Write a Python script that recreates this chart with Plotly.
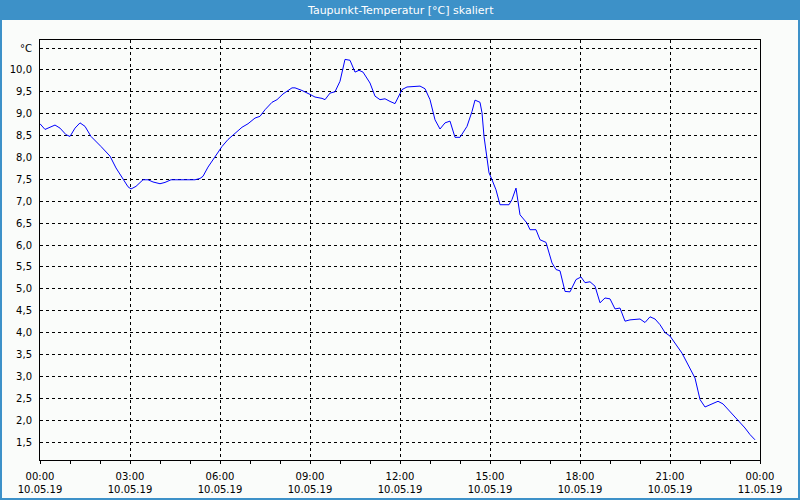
import plotly.graph_objects as go

DAY = "2019-05-10"
times = ["00:00","00:10","00:30","00:40","00:52","01:00","01:10","01:20","01:30","01:42",
         "02:02","02:20","02:32","02:46","02:56","03:02","03:12","03:26","03:36","03:46",
         "04:00","04:10","04:22","04:42","05:10","05:20","05:26","05:36","05:50","06:04",
         "06:16","06:30","06:44","06:56","07:10","07:20","07:30","07:44","07:54","08:06",
         "08:24","08:30","08:44","09:00","09:10","09:24","09:30","09:40","09:50","10:00",
         "10:10","10:20","10:30","10:38","10:46","11:00","11:10","11:20","11:30","11:40",
         "11:50","12:04","12:14","12:40","12:50","13:00","13:10","13:20","13:30","13:40",
         "13:50","14:00","14:14","14:24","14:30","14:40","14:44","14:48","14:54","14:58",
         "15:04","15:12","15:20","15:38","15:44","15:52","16:00","16:14","16:20","16:32",
         "16:40","16:52","17:04","17:12","17:20","17:30","17:40","17:52","18:02","18:10",
         "18:20","18:30","18:40","18:50","19:00","19:10","19:20","19:30","19:40","20:00",
         "20:10","20:20","20:30","20:40","20:50","21:00","21:24","21:40","21:50","22:00",
         "22:10","22:24","22:36","22:46","23:00","23:16","23:30","23:40","23:50"]
values = [8.77,8.64,8.74,8.67,8.52,8.48,8.67,8.79,8.71,8.48,
          8.25,8.03,7.76,7.49,7.33,7.28,7.34,7.49,7.49,7.44,
          7.40,7.43,7.49,7.49,7.49,7.52,7.57,7.78,8.03,8.25,
          8.41,8.56,8.69,8.77,8.90,8.94,9.09,9.26,9.32,9.45,
          9.59,9.59,9.53,9.44,9.38,9.35,9.32,9.47,9.50,9.74,
          10.24,10.22,9.95,9.99,9.95,9.70,9.40,9.32,9.34,9.28,
          9.23,9.55,9.61,9.63,9.57,9.32,8.86,8.65,8.79,8.83,
          8.46,8.46,8.71,9.05,9.31,9.26,9.02,8.48,8.03,7.65,
          7.49,7.26,6.92,6.92,7.04,7.30,6.69,6.50,6.35,6.35,
          6.12,6.06,5.59,5.44,5.41,4.94,4.93,5.21,5.27,5.14,
          5.16,5.06,4.68,4.79,4.77,4.54,4.56,4.26,4.29,4.31,
          4.23,4.36,4.31,4.18,4.00,3.92,3.53,3.19,2.96,2.47,
          2.30,2.37,2.43,2.37,2.20,2.01,1.82,1.67,1.55]

x_tick_times = ["2019-05-10 00:00","2019-05-10 03:00","2019-05-10 06:00","2019-05-10 09:00",
                "2019-05-10 12:00","2019-05-10 15:00","2019-05-10 18:00","2019-05-10 21:00",
                "2019-05-11 00:00"]
x_tick_text = ["00:00<br>10.05.19","03:00<br>10.05.19","06:00<br>10.05.19","09:00<br>10.05.19",
               "12:00<br>10.05.19","15:00<br>10.05.19","18:00<br>10.05.19","21:00<br>10.05.19",
               "00:00<br>11.05.19"]
y_tick_vals = [1.5,2.0,2.5,3.0,3.5,4.0,4.5,5.0,5.5,6.0,6.5,7.0,7.5,8.0,8.5,9.0,9.5,10.0,10.5]
y_tick_text = ["1,5","2,0","2,5","3,0","3,5","4,0","4,5","5,0","5,5","6,0","6,5","7,0",
               "7,5","8,0","8,5","9,0","9,5","10,0","°C"]
title_text = "Taupunkt-Temperatur [°C] skaliert"

W, H = 800, 500
L, R, T, B = 40, 40, 40, 40
pw, ph = W - L - R, H - T - B
def px(x): return (x - L) / pw
def py(y): return (H - B - y) / ph

BLUE = "#3d91c8"
BG = "#fafcfa"

xs = [f"{DAY} {t}" for t in times]
fig = go.Figure(go.Scatter(x=xs, y=values, mode="lines",
                           line=dict(color="#0000ff", width=1), hoverinfo="skip"))

font = dict(family="DejaVu Sans", size=10, color="#000000")
fig.update_layout(
    width=W, height=H,
    margin=dict(l=L, r=R, t=T, b=B, autoexpand=False),
    paper_bgcolor=BG, plot_bgcolor=BG,
    showlegend=False, font=font,
    xaxis=dict(range=["2019-05-10 00:00", "2019-05-11 00:00"], type="date",
               tickmode="array", tickvals=x_tick_times, ticktext=x_tick_text,
               ticks="outside", ticklen=3, tickcolor="#000", tickfont=font,
               showgrid=True, gridcolor="#000", gridwidth=1, griddash="3px,3px",
               showline=True, linecolor="#000", linewidth=1, mirror=True, zeroline=False,
               minor=dict(dtick=3600000, tick0="2019-05-10 00:00", ticks="outside",
                          ticklen=3, tickcolor="#000", showgrid=False),
               ticklabelstandoff=4, automargin=False),
    yaxis=dict(range=[1.089, 10.683], tickmode="array", tickvals=y_tick_vals,
               ticktext=y_tick_text, ticks="", tickfont=font,
               showgrid=True, gridcolor="#000", gridwidth=1, griddash="3px,3px",
               showline=True, linecolor="#000", linewidth=1, mirror=True, zeroline=False,
               ticklabelstandoff=5, automargin=False),
    shapes=[
        dict(type="rect", xref="paper", yref="paper", x0=px(0), x1=px(W), y0=py(20), y1=py(0),
             fillcolor=BLUE, line=dict(width=0), layer="below"),
        dict(type="rect", xref="paper", yref="paper", x0=px(1), x1=px(W - 1), y0=py(H - 1), y1=py(1),
             fillcolor="rgba(0,0,0,0)", line=dict(color=BLUE, width=2)),
    ],
    annotations=[dict(text=title_text, xref="paper", yref="paper", x=px(400), y=py(10),
                      showarrow=False, xanchor="center", yanchor="middle",
                      font=dict(family="DejaVu Sans", size=11, color="#ffffff"))],
)
fig.write_html("out.html")
